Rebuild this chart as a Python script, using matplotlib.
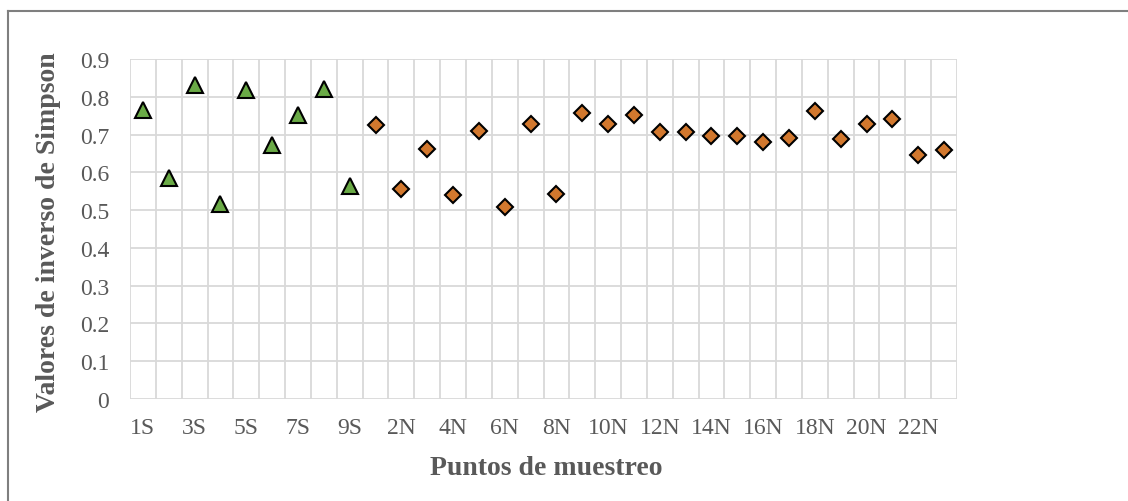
import matplotlib
matplotlib.use("Agg")
import matplotlib.pyplot as plt
from matplotlib.lines import Line2D

s_labels = [f"{i}S" for i in range(1, 10)]
n_labels = [f"{i}N" for i in range(1, 24)]
s_values = [0.765, 0.584, 0.830, 0.515, 0.819, 0.672, 0.751, 0.821, 0.564]
n_values = [0.726, 0.555, 0.662, 0.541, 0.710, 0.508, 0.727, 0.542, 0.756,
            0.728, 0.752, 0.708, 0.707, 0.695, 0.697, 0.680, 0.692, 0.763,
            0.689, 0.727, 0.742, 0.646, 0.660]
categories = s_labels + n_labels
y_ticks = [0, 0.1, 0.2, 0.3, 0.4, 0.5, 0.6, 0.7, 0.8, 0.9]
y_tick_labels = ["0", "0.1", "0.2", "0.3", "0.4", "0.5", "0.6", "0.7", "0.8", "0.9"]

plt.rcParams['font.family'] = ['Liberation Serif', 'DejaVu Serif']

W, H = 1128, 502
fig = plt.figure(figsize=(W / 100, H / 100), dpi=100)
ax = fig.add_axes([130 / W, (H - 400) / H, (957 - 130) / W, 340 / H])

# outer chart border
fig.add_artist(Line2D([8 / W, 1.0], [1 - 12 / H, 1 - 12 / H], transform=fig.transFigure,
                      color="#7f7f7f", lw=1.5))
fig.add_artist(Line2D([8 / W, 8 / W], [0, 1 - 12 / H], transform=fig.transFigure,
                      color="#7f7f7f", lw=1.5))

grid_c = "#d9d9d9"
n = len(categories)
xs_s = list(range(len(s_labels)))
xs_n = list(range(len(s_labels), n))

for b in range(n + 1):
    ax.axvline(b - 0.5, color=grid_c, lw=1.3, zorder=1)
for t in y_ticks:
    ax.axhline(t, color=grid_c, lw=1.3, zorder=1)

ax.plot(xs_s, s_values, linestyle="none", marker="^", markersize=12,
        markerfacecolor="#6aaa46", markeredgecolor="black", markeredgewidth=1.5, zorder=3,
        clip_on=False)
ax.plot(xs_n, n_values, linestyle="none", marker="D", markersize=8.5,
        markerfacecolor="#d2782e", markeredgecolor="black", markeredgewidth=1.5, zorder=3,
        clip_on=False)

ax.set_xlim(-0.5, n - 0.5)
ax.set_ylim(0, 0.9)
ax.set_yticks(y_ticks)
ax.set_yticklabels(y_tick_labels)
ax.set_xticks(range(0, n, 2))
ax.set_xticklabels(categories[0::2])
for sp in ax.spines.values():
    sp.set_visible(False)
ax.tick_params(axis="both", length=0, labelsize=17, labelcolor="#595959")
ax.tick_params(axis="x", pad=13)
ax.tick_params(axis="y", pad=15)

ax.set_ylabel("Valores de inverso de Simpson", fontsize=20, fontweight="bold",
              color="#595959")
ax.yaxis.set_label_coords(49 / W, 1 - 232 / H, transform=fig.transFigure)
ax.yaxis.label.set_va("center")
ax.set_xlabel("Puntos de muestreo", fontsize=20, fontweight="bold",
              color="#595959")
ax.xaxis.set_label_coords(546 / W, 1 - 469 / H, transform=fig.transFigure)
ax.xaxis.label.set_va("center")

fig.savefig("out.png", dpi=100)
